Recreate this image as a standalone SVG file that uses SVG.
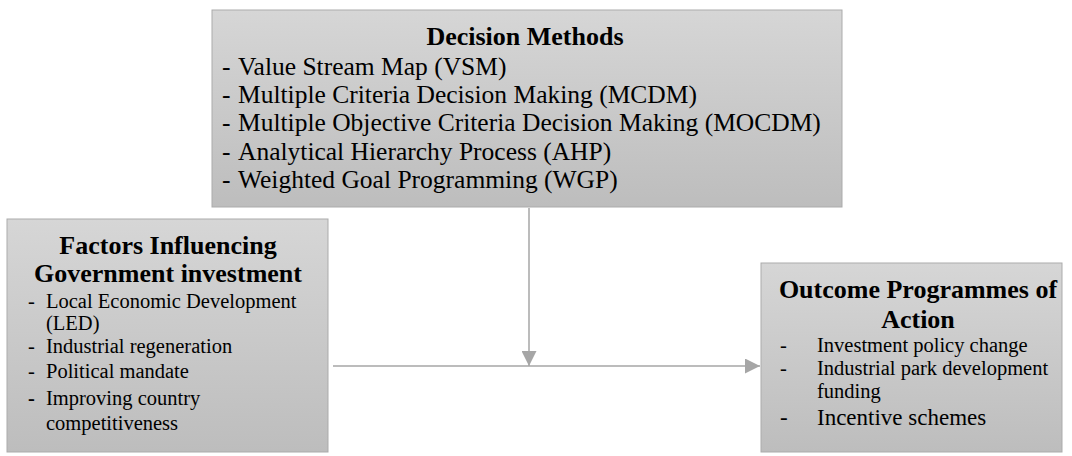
<svg xmlns="http://www.w3.org/2000/svg" width="1072" height="456" viewBox="0 0 1072 456">
<defs>
<linearGradient id="g" x1="0" y1="0" x2="0" y2="1">
<stop offset="0" stop-color="#d6d6d6"/>
<stop offset="1" stop-color="#bdbdbd"/>
</linearGradient>
<marker id="ah" viewBox="0 0 10 10" refX="10" refY="5" markerWidth="15" markerHeight="15" markerUnits="userSpaceOnUse" orient="auto">
<path d="M0,0 L10,5 L0,10 Z" fill="#a6a6a6"/>
</marker>
</defs>
<style>
.box{fill:url(#g);stroke:#ababab;stroke-width:1}
.t{font-family:"Liberation Serif","Times New Roman",serif;fill:#000}
.h{font-weight:bold;font-size:26px;text-anchor:middle}
.b1{font-size:25.5px}
.b2{font-size:20.5px}
.b3{font-size:23px}
.c{fill:none;stroke:#a6a6a6;stroke-width:1.5}
</style>
<rect width="1072" height="456" fill="#fff"/>
<g id="connectors">
<line class="c" x1="529" y1="208" x2="529" y2="366" marker-end="url(#ah)"/>
<line class="c" x1="333" y1="366" x2="760" y2="366" marker-end="url(#ah)"/>
</g>
<g id="decision-methods">
<rect class="box" x="212" y="10" width="630" height="197"/>
<text class="t h" x="525" y="45">Decision Methods</text>
<g class="t b1">
<text x="222" y="75">-</text><text x="238" y="75">Value Stream Map (VSM)</text>
<text x="222" y="103">-</text><text x="238" y="103">Multiple Criteria Decision Making (MCDM)</text>
<text x="222" y="131">-</text><text x="238" y="131">Multiple Objective Criteria Decision Making (MOCDM)</text>
<text x="222" y="160">-</text><text x="238" y="160">Analytical Hierarchy Process (AHP)</text>
<text x="222" y="188">-</text><text x="238" y="188">Weighted Goal Programming (WGP)</text>
</g>
</g>
<g id="factors">
<rect class="box" x="7" y="219" width="321" height="233"/>
<text class="t h" x="168" y="254">Factors Influencing</text>
<text class="t h" x="168" y="282">Government investment</text>
<g class="t b2">
<text x="28" y="308">-</text><text x="46" y="308">Local Economic Development</text>
<text x="46" y="330">(LED)</text>
<text x="28" y="353">-</text><text x="46" y="353">Industrial regeneration</text>
<text x="28" y="378">-</text><text x="46" y="378">Political mandate</text>
<text x="28" y="405" font-weight="bold">-</text><text x="46" y="405">Improving country</text>
<text x="46" y="430">competitiveness</text>
</g>
</g>
<g id="outcome">
<rect class="box" x="761" y="263" width="301" height="189"/>
<text class="t h" x="918" y="298">Outcome Programmes of</text>
<text class="t h" x="918" y="328">Action</text>
<g class="t b2">
<text x="780" y="352">-</text><text x="817" y="352">Investment policy change</text>
<text x="780" y="375">-</text><text x="817" y="375">Industrial park development</text>
<text x="817" y="398">funding</text>
</g>
<g class="t b3">
<text x="780" y="425">-</text><text x="817" y="425">Incentive schemes</text>
</g>
</g>
</svg>
